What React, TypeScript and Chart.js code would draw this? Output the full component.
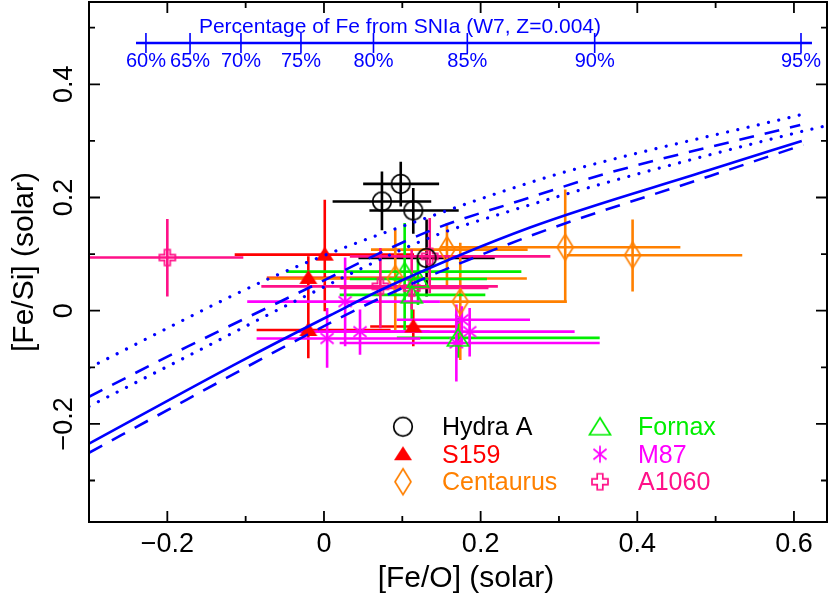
import React, { useEffect, useRef } from 'react';
import { Chart, registerables } from 'chart.js';

Chart.register(...registerables);

// ---------------- axes ----------------
const X_MIN = -0.3;
const X_MAX = 0.6422;
const Y_MIN = -0.3733;
const Y_MAX = 0.5454;
const xMajorTicks = [-0.2, 0, 0.2, 0.4, 0.6];
const xMajorLabels = ['\u22120.2', '0', '0.2', '0.4', '0.6'];
const xMinorTicks = [-0.1, 0.1, 0.3, 0.5];
const yMajorTicks = [-0.2, 0, 0.2, 0.4];
const yMajorLabels = ['\u22120.2', '0', '0.2', '0.4'];
const yMinorTicks = [-0.3, -0.1, 0.1, 0.3, 0.5];

// ---------------- top SNIa-fraction axis ----------------
const topAxisLabels = ['60%', '65%', '70%', '75%', '80%', '85%', '90%', '95%'];
const topAxisFeO = [-0.2273, -0.171, -0.106, -0.0294, 0.0632, 0.183, 0.3456, 0.609];
const topAxisRange = [-0.24, 0.623];
const topAxisLevel = 0.473;
const topAxisTitle = 'Percentage of Fe from SNIa (W7, Z=0.004)';

// ---------------- model curves ----------------
const solidX = [-0.3, -0.107, 0.008, 0.084, 0.263, 0.493, 0.61];
const solidY = [-0.235, -0.09, -0.008, 0.044, 0.147, 0.249, 0.3];
const dashLoX = [-0.3, -0.175, -0.04, 0.084, 0.263, 0.493, 0.612];
const dashLoY = [-0.251, -0.157, -0.056, 0.03, 0.132, 0.238, 0.293];
const dashHiX = [-0.3, -0.175, -0.035, 0.135, 0.254, 0.365, 0.608];
const dashHiY = [-0.152, -0.064, 0.03, 0.141, 0.196, 0.244, 0.328];
const dotHiX = [-0.3, -0.073, 0.029, 0.135, 0.231, 0.31, 0.608];
const dotHiY = [-0.101, 0.055, 0.113, 0.166, 0.212, 0.246, 0.346];
const dotLoX = [-0.3, -0.175, -0.035, 0.135, 0.235, 0.365, 0.608, 0.642];
const dotLoY = [-0.169, -0.081, 0.018, 0.129, 0.175, 0.228, 0.316, 0.327];

// ---------------- observations ----------------
const hydraX = [0.074, 0.098, 0.114, 0.131];
const hydraY = [0.193, 0.224, 0.177, 0.093];
const hydraXlo = [0.011, 0.05, 0.058, 0.044];
const hydraXhi = [0.137, 0.147, 0.172, 0.218];
const hydraYlo = [0.142, 0.184, 0.136, 0.025];
const hydraYhi = [0.246, 0.263, 0.217, 0.161];

const s159X = [0.001, -0.02, -0.02, 0.114];
const s159Y = [0.099, 0.058, -0.034, -0.028];
const s159Xlo = [-0.114, -0.073, -0.086, 0.059];
const s159Xhi = [0.115, 0.125, 0.085, 0.169];
const s159Ylo = [-0.001, 0.019, -0.084, -0.063];
const s159Yhi = [0.196, 0.096, 0.019, 0.002];

const cenX = [0.157, 0.174, 0.308, 0.394, 0.091];
const cenY = [0.108, 0.016, 0.112, 0.098, 0.057];
const cenXlo = [0.06, 0.148, 0.148, 0.31, -0.073];
const cenXhi = [0.26, 0.31, 0.455, 0.534, 0.259];
const cenYlo = [0.043, -0.087, 0.014, 0.034, -0.034];
const cenYhi = [0.155, 0.12, 0.214, 0.161, 0.143];

const fnxX = [0.103, 0.12, 0.112, 0.171];
const fnxY = [0.069, 0.056, 0.028, -0.048];
const fnxXlo = [-0.048, 0.033, 0.02, 0.093];
const fnxXhi = [0.252, 0.208, 0.206, 0.352];
const fnxYlo = [-0.034, 0.01, -0.018, -0.083];
const fnxYhi = [0.155, 0.098, 0.072, -0.013];

const m87X = [0.027, 0.004, 0.046, 0.176, 0.186, 0.169];
const m87Y = [0.016, -0.049, -0.037, -0.016, -0.037, -0.057];
const m87Xlo = [-0.098, -0.086, -0.035, 0.093, 0.008, 0.02];
const m87Xhi = [0.148, 0.123, 0.135, 0.263, 0.32, 0.352];
const m87Ylo = [-0.063, -0.101, -0.078, -0.06, -0.081, -0.125];
const m87Yhi = [0.094, 0.005, 0.002, 0.008, 0.005, 0.011];

const a1060X = [-0.2, 0.135, 0.072, 0.112];
const a1060Y = [0.094, 0.096, 0.043, 0.04];
const a1060Xlo = [-0.3, 0.033, -0.08, 0.02];
const a1060Xhi = [-0.103, 0.289, 0.222, 0.21];
const a1060Ylo = [0.025, 0.031, -0.031, 0.002];
const a1060Yhi = [0.162, 0.164, 0.111, 0.108];

const seriesNames = ['Hydra A', 'S159', 'Centaurus', 'Fornax', 'M87', 'A1060'];
const seriesColors = ['#000000', '#ff0000', '#ff8000', '#00ee00', '#ff00ff', '#ff1088'];
const seriesMarkers = ['circle', 'triFill', 'diamond', 'triOpen', 'star', 'crossOpen'];

const BLUE = '#0000ff';
const FONT = '"Liberation Sans", Arial, Helvetica, sans-serif';

function makeMarker(kind: string, color: string): HTMLCanvasElement {
  const c = document.createElement('canvas');
  const s = 32;
  c.width = s;
  c.height = s;
  const g = c.getContext('2d') as CanvasRenderingContext2D;
  const m = s / 2;
  g.strokeStyle = color;
  g.fillStyle = color;
  g.lineWidth = 1.7;
  g.beginPath();
  if (kind === 'circle') {
    g.arc(m, m, 9.3, 0, Math.PI * 2);
    g.stroke();
  } else if (kind === 'triFill') {
    g.moveTo(m, m - 8);
    g.lineTo(m + 9, m + 6);
    g.lineTo(m - 9, m + 6);
    g.closePath();
    g.fill();
  } else if (kind === 'diamond') {
    g.moveTo(m, m - 13);
    g.lineTo(m + 8, m);
    g.lineTo(m, m + 13);
    g.lineTo(m - 8, m);
    g.closePath();
    g.stroke();
  } else if (kind === 'triOpen') {
    g.moveTo(m, m - 9);
    g.lineTo(m + 10.5, m + 8);
    g.lineTo(m - 10.5, m + 8);
    g.closePath();
    g.stroke();
  } else if (kind === 'star') {
    const r = 8.5;
    const d = r * 0.77;
    g.moveTo(m, m - r);
    g.lineTo(m, m + r);
    g.moveTo(m - d, m - d * 0.8);
    g.lineTo(m + d, m + d * 0.8);
    g.moveTo(m + d, m - d * 0.8);
    g.lineTo(m - d, m + d * 0.8);
    g.stroke();
  } else if (kind === 'crossOpen') {
    const a = 2.8;
    const b = 8;
    const pts = [[-a, -b], [a, -b], [a, -a], [b, -a], [b, a], [a, a], [a, b], [-a, b], [-a, a], [-b, a], [-b, -a], [-a, -a]];
    pts.forEach((p, i) => (i === 0 ? g.moveTo(m + p[0], m + p[1]) : g.lineTo(m + p[0], m + p[1])));
    g.closePath();
    g.stroke();
  }
  return c;
}

const seriesData = [
  [hydraX, hydraY, hydraXlo, hydraXhi, hydraYlo, hydraYhi],
  [s159X, s159Y, s159Xlo, s159Xhi, s159Ylo, s159Yhi],
  [cenX, cenY, cenXlo, cenXhi, cenYlo, cenYhi],
  [fnxX, fnxY, fnxXlo, fnxXhi, fnxYlo, fnxYhi],
  [m87X, m87Y, m87Xlo, m87Xhi, m87Ylo, m87Yhi],
  [a1060X, a1060Y, a1060Xlo, a1060Xhi, a1060Ylo, a1060Yhi],
];

const errorBarPlugin = {
  id: 'errorBars',
  beforeDatasetsDraw(chart: any) {
    const { ctx, chartArea: a } = chart;
    const xs = chart.scales.x;
    const ys = chart.scales.y;
    ctx.save();
    ctx.beginPath();
    ctx.rect(a.left, a.top, a.right - a.left, a.bottom - a.top);
    ctx.clip();
    ctx.lineWidth = 2.6;
    ctx.lineCap = 'butt';
    seriesData.forEach((sd, si) => {
      const [X, Y, XL, XH, YL, YH] = sd;
      ctx.strokeStyle = seriesColors[si];
      for (let i = 0; i < X.length; i++) {
        const px = xs.getPixelForValue(X[i]);
        const py = ys.getPixelForValue(Y[i]);
        ctx.beginPath();
        ctx.moveTo(xs.getPixelForValue(XL[i]), py);
        ctx.lineTo(xs.getPixelForValue(XH[i]), py);
        ctx.moveTo(px, ys.getPixelForValue(YL[i]));
        ctx.lineTo(px, ys.getPixelForValue(YH[i]));
        ctx.stroke();
      }
    });
    ctx.restore();
  },
};

function makeOverlayPlugin(markers: HTMLCanvasElement[]) {
  return {
    id: 'overlay',
    afterDatasetsDraw(chart: any) {
      const { ctx, chartArea: a } = chart;
      const xs = chart.scales.x;
      const ys = chart.scales.y;
      ctx.save();
      // frame
      ctx.strokeStyle = '#000';
      ctx.lineWidth = 2;
      ctx.strokeRect(a.left, a.top, a.right - a.left, a.bottom - a.top);
      ctx.lineWidth = 1.8;
      ctx.beginPath();
      const xt = (v: number, len: number) => {
        const p = xs.getPixelForValue(v);
        ctx.moveTo(p, a.bottom);
        ctx.lineTo(p, a.bottom - len);
        ctx.moveTo(p, a.top);
        ctx.lineTo(p, a.top + len);
      };
      const yt = (v: number, len: number) => {
        const p = ys.getPixelForValue(v);
        ctx.moveTo(a.left, p);
        ctx.lineTo(a.left + len, p);
        ctx.moveTo(a.right, p);
        ctx.lineTo(a.right - len, p);
      };
      xMajorTicks.forEach((v) => xt(v, 11));
      xMinorTicks.forEach((v) => xt(v, 6));
      yMajorTicks.forEach((v) => yt(v, 11));
      yMinorTicks.forEach((v) => yt(v, 6));
      ctx.stroke();

      // tick labels
      ctx.fillStyle = '#000';
      ctx.font = `27px ${FONT}`;
      ctx.textAlign = 'center';
      ctx.textBaseline = 'alphabetic';
      xMajorTicks.forEach((v, i) => {
        ctx.fillText(xMajorLabels[i], xs.getPixelForValue(v), 552);
      });
      yMajorTicks.forEach((v, i) => {
        ctx.save();
        ctx.translate(72, ys.getPixelForValue(v));
        ctx.rotate(-Math.PI / 2);
        ctx.fillText(yMajorLabels[i], 0, 0);
        ctx.restore();
      });
      // axis titles
      ctx.font = `30px ${FONT}`;
      ctx.fillText('[Fe/O] (solar)', (a.left + a.right) / 2 + 8, 587);
      ctx.save();
      ctx.translate(33, (a.top + a.bottom) / 2);
      ctx.rotate(-Math.PI / 2);
      ctx.fillText('[Fe/Si] (solar)', 0, 0);
      ctx.restore();

      // top SNIa axis
      const ly = ys.getPixelForValue(topAxisLevel);
      ctx.strokeStyle = BLUE;
      ctx.fillStyle = BLUE;
      ctx.lineWidth = 2.6;
      ctx.beginPath();
      ctx.moveTo(xs.getPixelForValue(topAxisRange[0]), ly);
      ctx.lineTo(xs.getPixelForValue(topAxisRange[1]), ly);
      ctx.stroke();
      ctx.lineWidth = 1.6;
      ctx.beginPath();
      topAxisFeO.forEach((v) => {
        const p = xs.getPixelForValue(v);
        ctx.moveTo(p, ly - 10);
        ctx.lineTo(p, ly + 10);
      });
      ctx.stroke();
      ctx.font = `20px ${FONT}`;
      topAxisFeO.forEach((v, i) => {
        ctx.fillText(topAxisLabels[i], xs.getPixelForValue(v), ly + 24);
      });
      ctx.font = `21px ${FONT}`;
      ctx.fillText(topAxisTitle, xs.getPixelForValue(0.097), ly - 10);

      // legend
      const rows = [426.7, 454.2, 481.7];
      const colM = [403, 600];
      const colT = [442, 638];
      ctx.font = `25px ${FONT}`;
      ctx.textAlign = 'left';
      seriesNames.forEach((name, i) => {
        const col = Math.floor(i / 3);
        const row = i % 3;
        const mk = markers[i];
        ctx.drawImage(mk, colM[col] - mk.width / 2, rows[row] - mk.height / 2);
        ctx.fillStyle = seriesColors[i];
        ctx.fillText(name, colT[col], rows[row] + 8.5);
      });
      ctx.restore();
    },
  };
}

export default function App() {
  const ref = useRef<HTMLCanvasElement>(null);
  useEffect(() => {
    document.body.style.margin = '0';
    const canvas = ref.current;
    if (!canvas) return;
    const markers = seriesNames.map((_, i) => makeMarker(seriesMarkers[i], seriesColors[i]));
    const curve = (xv: number[], yv: number[], dash: number[], cap: string, width: number) => ({
      data: xv.map((x, i) => ({ x, y: yv[i] })),
      showLine: true,
      borderColor: BLUE,
      backgroundColor: BLUE,
      borderWidth: width,
      borderDash: dash,
      borderCapStyle: cap,
      pointRadius: 0,
      cubicInterpolationMode: 'monotone',
    });
    const datasets: any[] = [
      curve(solidX, solidY, [], 'butt', 2.6),
      curve(dashLoX, dashLoY, [15, 11], 'butt', 2.6),
      curve(dashHiX, dashHiY, [15, 11], 'butt', 2.6),
      curve(dotHiX, dotHiY, [0.01, 10.5], 'round', 3.2),
      curve(dotLoX, dotLoY, [0.01, 10.5], 'round', 3.2),
    ];
    seriesData.forEach((sd, si) => {
      const [X, Y] = sd;
      datasets.push({
        data: X.map((x, i) => ({ x, y: Y[i] })),
        showLine: false,
        pointStyle: markers[si],
        pointRadius: 9,
        borderColor: seriesColors[si],
        backgroundColor: seriesColors[si],
      });
    });
    const chart = new Chart(canvas, {
      type: 'scatter',
      data: { datasets },
      options: {
        animation: false,
        responsive: false,
        maintainAspectRatio: false,
        devicePixelRatio: 1,
        events: [],
        layout: { autoPadding: false, padding: { top: 2, right: 3, left: 0, bottom: 0 } },
        plugins: { legend: { display: false }, tooltip: { enabled: false } },
        scales: {
          x: {
            type: 'linear',
            min: X_MIN,
            max: X_MAX,
            grid: { display: false },
            border: { display: false },
            ticks: { display: false },
            afterFit: (s: any) => {
              s.height = 72;
            },
          },
          y: {
            type: 'linear',
            min: Y_MIN,
            max: Y_MAX,
            grid: { display: false },
            border: { display: false },
            ticks: { display: false },
            afterFit: (s: any) => {
              s.width = 89;
            },
          },
        },
      } as any,
      plugins: [errorBarPlugin, makeOverlayPlugin(markers)],
    });
    return () => chart.destroy();
  }, []);
  return (
    <div style={{ position: 'absolute', left: 0, top: 0, width: 830, height: 594, background: '#fff' }}>
      <canvas ref={ref} width={830} height={594} style={{ display: 'block' }} />
    </div>
  );
}
